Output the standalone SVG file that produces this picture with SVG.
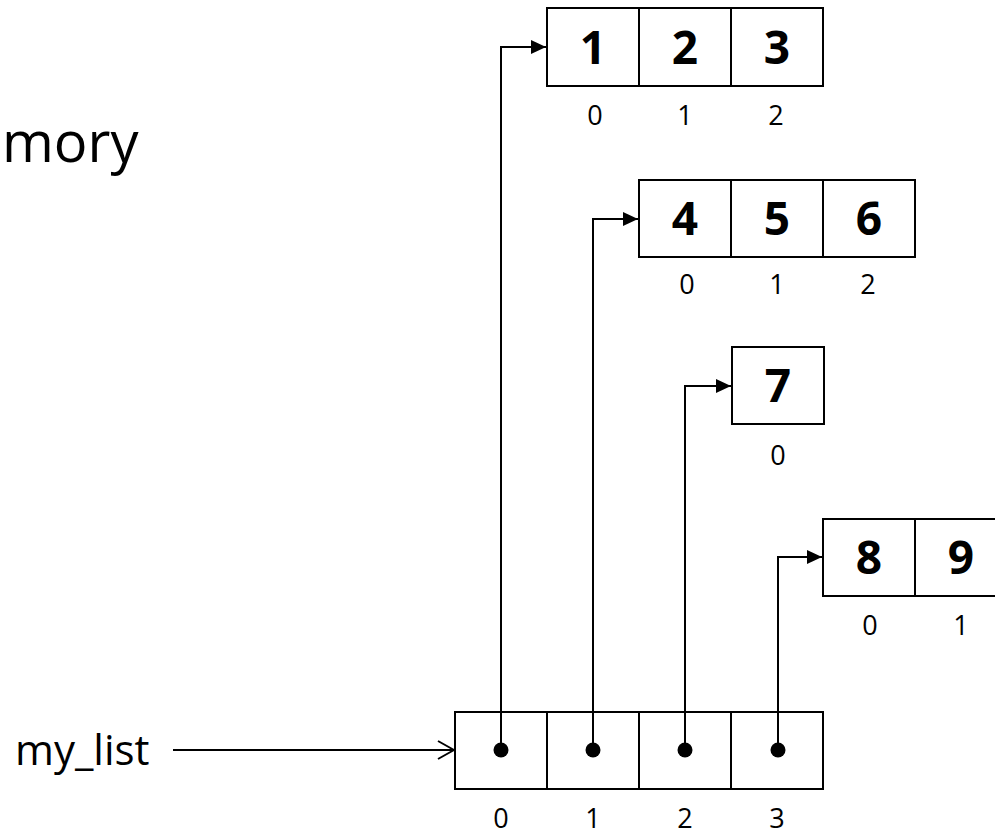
<svg xmlns="http://www.w3.org/2000/svg" width="995" height="833" viewBox="0 0 995 833">
<defs>
<style>
.cell{fill:#fff;stroke:#000;stroke-width:2}
.val{font-family:"Open Sans","Liberation Sans",sans-serif;font-weight:bold;font-size:46px;text-anchor:middle;fill:#000}
.idx{font-family:"Open Sans","Liberation Sans",sans-serif;font-size:27px;text-anchor:middle;fill:#000}
.lbl{font-family:"Open Sans","Liberation Sans",sans-serif;fill:#000}
.wire{fill:none;stroke:#000;stroke-width:2}
.dot{fill:#000}
</style>
<marker id="tri" viewBox="0 0 15 14" refX="15" refY="7" markerWidth="15" markerHeight="14" markerUnits="userSpaceOnUse" orient="auto">
<path d="M0,0 L15,7 L0,14 Z" fill="#000"/>
</marker>
<marker id="open" viewBox="0 0 18 20" refX="17" refY="10" markerWidth="18" markerHeight="20" markerUnits="userSpaceOnUse" orient="auto">
<path d="M1,1 L17,10 L1,19" fill="none" stroke="#000" stroke-width="2"/>
</marker>
</defs>
<rect width="995" height="833" fill="#fff"/>
<text class="lbl" x="2" y="162" font-size="56">mory</text>
<text class="lbl" x="15" y="765" font-size="42">my_list</text>

<g id="arr123">
<rect class="cell" x="547" y="8" width="92" height="78"/>
<rect class="cell" x="639" y="8" width="92" height="78"/>
<rect class="cell" x="731" y="8" width="92" height="78"/>
<text class="val" x="593" y="64">1</text>
<text class="val" x="685" y="64">2</text>
<text class="val" x="777" y="64">3</text>
<text class="idx" x="595" y="125">0</text>
<text class="idx" x="685" y="125">1</text>
<text class="idx" x="776" y="125">2</text>
</g>
<g id="arr456">
<rect class="cell" x="639" y="180" width="92" height="77"/>
<rect class="cell" x="731" y="180" width="92" height="77"/>
<rect class="cell" x="823" y="180" width="92" height="77"/>
<text class="val" x="685" y="235">4</text>
<text class="val" x="777" y="235">5</text>
<text class="val" x="869" y="235">6</text>
<text class="idx" x="687" y="294">0</text>
<text class="idx" x="777" y="294">1</text>
<text class="idx" x="868" y="294">2</text>
</g>
<g id="arr7">
<rect class="cell" x="732" y="347" width="92" height="77"/>
<text class="val" x="778" y="402">7</text>
<text class="idx" x="778" y="465">0</text>
</g>
<g id="arr89">
<rect class="cell" x="823" y="519" width="92" height="77"/>
<rect class="cell" x="915" y="519" width="92" height="77"/>
<text class="val" x="869" y="574">8</text>
<text class="val" x="961" y="574">9</text>
<text class="idx" x="870" y="635">0</text>
<text class="idx" x="961" y="635">1</text>
</g>
<g id="my_list">
<rect class="cell" x="455" y="712" width="92" height="77"/>
<rect class="cell" x="547" y="712" width="92" height="77"/>
<rect class="cell" x="639" y="712" width="92" height="77"/>
<rect class="cell" x="731" y="712" width="92" height="77"/>
<text class="idx" x="501" y="828">0</text>
<text class="idx" x="593" y="828">1</text>
<text class="idx" x="685" y="828">2</text>
<text class="idx" x="777" y="828">3</text>
</g>
<g id="connectors">
<path class="wire" d="M173,750 L454,750" marker-end="url(#open)"/>
<path class="wire" d="M501,750 V47 H546" marker-end="url(#tri)"/>
<path class="wire" d="M593,750 V219 H638" marker-end="url(#tri)"/>
<path class="wire" d="M685,750 V386 H731" marker-end="url(#tri)"/>
<path class="wire" d="M778,750 V557 H822" marker-end="url(#tri)"/>
<circle class="dot" cx="501" cy="750" r="7.5"/>
<circle class="dot" cx="593" cy="750" r="7.5"/>
<circle class="dot" cx="685" cy="750" r="7.5"/>
<circle class="dot" cx="778" cy="750" r="7.5"/>
</g>
</svg>
